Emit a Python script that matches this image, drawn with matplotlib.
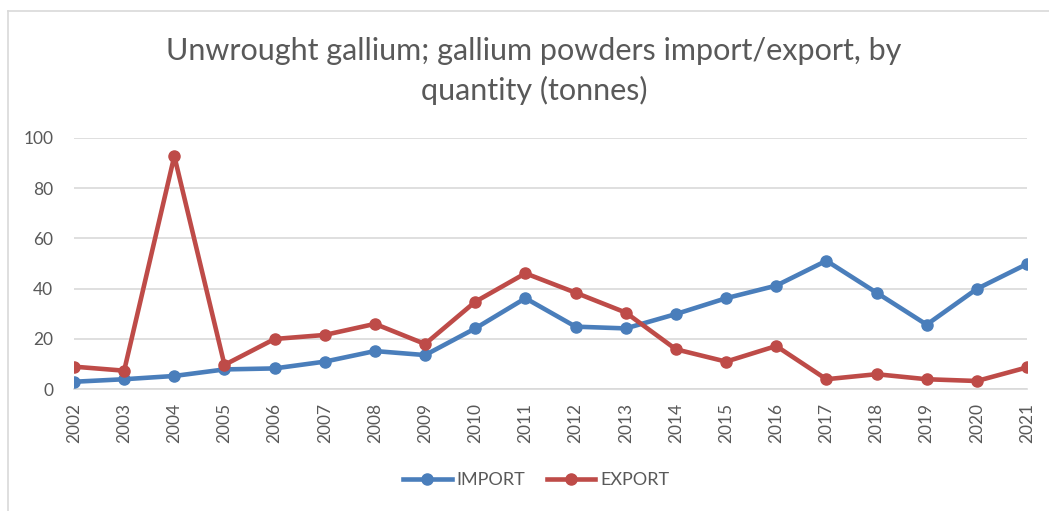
import matplotlib
matplotlib.use("Agg")
import matplotlib.pyplot as plt
from matplotlib.lines import Line2D

years = [str(y) for y in range(2002, 2022)]
import_vals = [3.0, 4.0, 5.3, 7.9, 8.3, 11.0, 15.2, 13.6, 24.2, 36.2,
               24.9, 24.2, 29.9, 36.2, 41.2, 51.1, 38.4, 25.7, 39.9, 49.8]
export_vals = [9.0, 7.4, 92.7, 9.7, 20.0, 21.6, 26.0, 18.0, 34.8, 46.1,
               38.4, 30.5, 15.9, 11.0, 17.2, 4.0, 6.0, 4.0, 3.3, 8.7]
yticks = [0, 20, 40, 60, 80, 100]
title = "Unwrought gallium; gallium powders import/export, by\nquantity (tonnes)"

plt.rcParams['font.family'] = ['Lato', 'DejaVu Sans']
grey = '#595959'
blue = '#4A7EBB'
red = '#BE4B48'

fig = plt.figure(figsize=(10.49, 5.11), dpi=100)
ax = fig.add_axes([74/1049, 1 - 389.3/511, (1027 - 74)/1049, (389.3 - 137.7)/511])

x = list(range(len(years)))
ax.plot(x, import_vals, color=blue, lw=3.3, marker='o', ms=8, label='IMPORT', zorder=3)
ax.plot(x, export_vals, color=red, lw=3.3, marker='o', ms=8, label='EXPORT', zorder=3)

ax.set_xlim(0, len(years) - 1)
ax.set_ylim(0, 100)
ax.set_yticks(yticks)
ax.set_xticks(x)
ax.set_xticklabels(years, rotation=90, fontsize=12.5, color=grey)
ax.tick_params(axis='y', labelsize=12.5, colors=grey, length=0, pad=15)
ax.tick_params(axis='x', length=0, pad=10, colors=grey)
ax.grid(axis='y', color='#D9D9D9', lw=1.2)
for s in ['left', 'right', 'top']:
    ax.spines[s].set_visible(False)
ax.spines['bottom'].set_color('#D9D9D9')
ax.spines['bottom'].set_linewidth(1.2)
ax.set_axisbelow(True)

fig.text(534/1049, 1 - 71/511, title, ha='center', va='center', fontsize=22,
         color=grey, linespacing=1.42)

handles = [Line2D([], [], color=blue, lw=3.3, marker='o', ms=8),
           Line2D([], [], color=red, lw=3.3, marker='o', ms=8)]
fig.legend(handles, ['IMPORT', 'EXPORT'], loc='center', bbox_to_anchor=(536/1049, 1 - 480/511),
           ncol=2, frameon=False, fontsize=13, labelcolor=grey, handlelength=2.7,
           columnspacing=1.2, handletextpad=0.25)

# chart border (left and top visible)
fig.add_artist(Line2D([8/1049, 8/1049], [0, 1 - 11/511], color='#D9D9D9', lw=1.2,
                      transform=fig.transFigure))
fig.add_artist(Line2D([8/1049, 1], [1 - 11/511, 1 - 11/511], color='#D9D9D9', lw=1.2,
                      transform=fig.transFigure))

fig.savefig('out.png', dpi=100, facecolor='white')
